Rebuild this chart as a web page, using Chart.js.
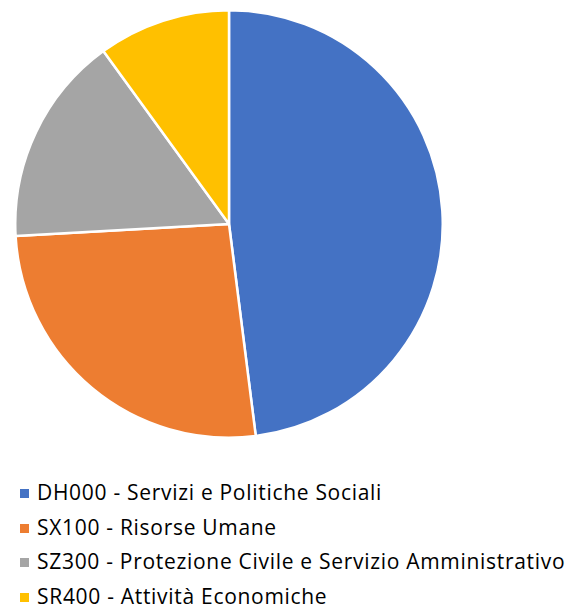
<!DOCTYPE html>
<html>
<head>
<meta charset="utf-8">
<script src="https://cdn.jsdelivr.net/npm/chart.js@4"></script>
<style>
  html, body { margin: 0; padding: 0; background: #fff; }
  body { width: 572px; height: 608px; position: relative; overflow: hidden; font-family: "Open Sans", "Liberation Sans", sans-serif; }
  #wrap { position: absolute; left: 14px; top: 9px; width: 430px; height: 430px; }
  #legend { position: absolute; left: 20px; top: 476px; margin: 0; padding: 0; list-style: none; }
  #legend li { height: 34.5px; line-height: 32px; font-size: 21px; letter-spacing: 0.7px; color: #000; white-space: nowrap; }
  #legend span.box { display: inline-block; width: 9px; height: 9px; margin-right: 8px; vertical-align: 2px; }
</style>
</head>
<body>
<div id="wrap"><canvas id="pieChart"></canvas></div>
<ul id="legend"></ul>
<script>
// Categories and shares (percent)
const labels = [
    'DH000 - Servizi e Politiche Sociali',
    'SX100 - Risorse Umane',
    'SZ300 - Protezione Civile e Servizio Amministrativo',
    'SR400 - Attività Economiche'
];
const values = [48.0, 26.1, 15.9, 10.0];
const colors = ['#4472C4', '#ED7D31', '#A5A5A5', '#FFC000'];

const chart = new Chart(document.getElementById('pieChart'), {
    type: 'pie',
    data: {
        labels: labels,
        datasets: [{
            data: values,
            backgroundColor: colors,
            borderColor: '#ffffff',
            borderWidth: 2.5
        }]
    },
    options: {
        responsive: true,
        maintainAspectRatio: false,
        animation: false,
        layout: { padding: 0 },
        plugins: {
            legend: { display: false },
            tooltip: { enabled: false }
        }
    }
});

// Legend built from the chart's own labels
const legend = document.getElementById('legend');
legend.innerHTML = chart.data.labels.map((lab, i) =>
    `<li><span class="box" style="background:${colors[i]}"></span>${lab}</li>`
).join('');
</script>
</body>
</html>
